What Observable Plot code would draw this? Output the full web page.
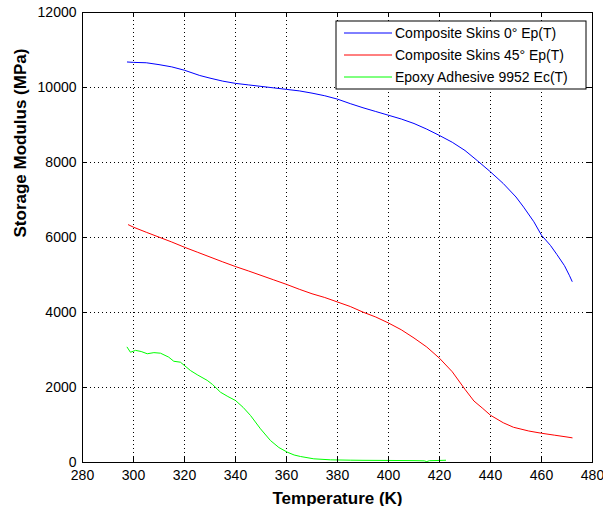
<!DOCTYPE html>
<html>
<head>
<meta charset="utf-8">
<script src="https://cdn.jsdelivr.net/npm/d3@7"></script>
<script src="https://cdn.jsdelivr.net/npm/@observablehq/plot@0.6"></script>
<style>
  body { margin: 0; background: white; }
  #chart { position: relative; width: 603px; height: 506px; }
</style>
</head>
<body>
<div id="chart"></div>
<script>
// Series names
const seriesNames = ["Composite Skins 0° Ep(T)", "Composite Skins 45° Ep(T)", "Epoxy Adhesive 9952 Ec(T)"];
const seriesColors = ["#0000ff", "#ff0000", "#00ff00"];

// Composite Skins 0°
const blueT = [297.6, 300, 305, 310, 315, 320, 326, 330, 335, 340, 345, 350, 355, 360, 365, 370, 375, 380, 385, 390, 395, 400, 405, 410, 415, 420, 425, 430, 435, 440, 445, 450, 453, 457, 460, 463.5, 466, 469, 471, 472];
const blueV = [10680, 10670, 10660, 10610, 10550, 10460, 10320, 10250, 10170, 10110, 10070, 10030, 9990, 9950, 9910, 9850, 9780, 9690, 9570, 9460, 9360, 9260, 9160, 9040, 8890, 8720, 8540, 8320, 8040, 7750, 7440, 7080, 6810, 6420, 6060, 5790, 5550, 5250, 4980, 4830];

// Composite Skins 45°
const redT = [298, 300, 305, 310, 315, 320, 325, 330, 335, 340, 345, 350, 355, 360, 365, 370, 375, 380, 385, 390, 395, 400, 405, 410, 415, 420, 425, 430, 433.5, 437, 440, 445, 449, 455, 460, 465, 470, 472];
const redV = [6340, 6275, 6140, 6010, 5880, 5740, 5610, 5480, 5350, 5225, 5110, 4990, 4870, 4750, 4620, 4500, 4400, 4280, 4160, 4010, 3880, 3720, 3540, 3320, 3080, 2780, 2420, 1950, 1640, 1440, 1260, 1060, 940, 840, 780, 730, 680, 658];

// Epoxy Adhesive 9952
const greenT = [297.5, 298.8, 300.8, 303, 305.4, 308, 310.6, 313.8, 315.8, 318.4, 322.4, 325, 328.9, 331, 334.1, 337, 340, 343, 345.9, 349.8, 353.7, 357, 360.3, 363, 365.5, 370.7, 377.3, 385, 390, 400, 410, 414, 415, 416, 420, 422.4];
const greenV = [3075, 2940, 2990, 2960, 2900, 2930, 2915, 2810, 2700, 2675, 2450, 2340, 2190, 2080, 1875, 1760, 1653, 1470, 1253, 898, 587, 400, 276, 200, 160, 98, 71, 62, 58, 55, 50, 45, 25, 48, 55, 60];

const xTicks = [280, 300, 320, 340, 360, 380, 400, 420, 440, 460, 480];
const yTicks = [0, 2000, 4000, 6000, 8000, 10000, 12000];
const xGrid = [300, 320, 340, 360, 380, 400, 420, 440, 460];
const yGrid = [2000, 4000, 6000, 8000, 10000];

const data = [];
[[blueT, blueV], [redT, redV], [greenT, greenV]].forEach(([ts, vs], i) => {
  ts.forEach((t, j) => data.push({T: t, v: vs[j], series: seriesNames[i]}));
});

const W = 603, H = 506, mL = 82, mR = 11, mT = 12, mB = 44;
const pw = W - mL - mR, ph = H - mT - mB;
const tickLen = 5;

const plot = Plot.plot({
  width: W, height: H,
  marginLeft: mL, marginRight: mR, marginTop: mT, marginBottom: mB,
  style: {fontFamily: "'Liberation Sans', Arial, sans-serif", fontSize: "14px", color: "black", background: "white"},
  x: {domain: [280, 480]},
  y: {domain: [0, 12000]},
  color: {domain: seriesNames, range: seriesColors},
  marks: [
    Plot.ruleX(xGrid, {x: d => d, stroke: "black", strokeWidth: 1, strokeDasharray: "1,3"}),
    Plot.ruleY(yGrid, {y: d => d, stroke: "black", strokeWidth: 1, strokeDasharray: "1,3"}),
    Plot.line(data, {x: "T", y: "v", z: "series", stroke: "series", strokeWidth: 1}),
    Plot.tickX(xTicks, {x: d => d, insetTop: ph - tickLen, stroke: "black"}),
    Plot.tickX(xTicks, {x: d => d, insetBottom: ph - tickLen, stroke: "black"}),
    Plot.tickY(yTicks, {y: d => d, insetLeft: 0, insetRight: pw - tickLen, stroke: "black"}),
    Plot.tickY(yTicks, {y: d => d, insetLeft: pw - tickLen, stroke: "black"}),
    Plot.frame({stroke: "black", strokeWidth: 1}),
    Plot.axisX(xTicks, {tickSize: 0, tickPadding: 8, label: null, fontSize: 14}),
    Plot.axisY(yTicks, {tickSize: 0, tickPadding: 6, label: null, tickFormat: d => String(d), fontSize: 14}),
    Plot.text(["Temperature (K)"], {frameAnchor: "bottom", text: d => d, dy: 41, fontWeight: "bold", fontSize: 17, lineAnchor: "bottom"}),
    Plot.text(["Storage Modulus (MPa)"], {frameAnchor: "left", text: d => d, dx: -62, rotate: -90, fontWeight: "bold", fontSize: 17, lineAnchor: "middle"})
  ]
});

document.getElementById("chart").appendChild(plot);

// Legend inside the plot area (top-right)
const svg = d3.select(plot);
const lg = svg.append("g").attr("transform", "translate(336,21)");
lg.append("rect").attr("width", 250).attr("height", 68).attr("fill", "white").attr("stroke", "black");
seriesNames.forEach((name, i) => {
  const y = 12 + i * 22;
  lg.append("line").attr("x1", 8).attr("x2", 56).attr("y1", y).attr("y2", y).attr("stroke", seriesColors[i]).attr("stroke-width", 1);
  lg.append("text").attr("x", 59).attr("y", y).attr("dy", "0.35em").attr("text-anchor", "start")
    .attr("font-family", "'Liberation Sans', Arial, sans-serif").attr("font-size", 14).attr("fill", "black").text(name);
});
</script>
</body>
</html>
